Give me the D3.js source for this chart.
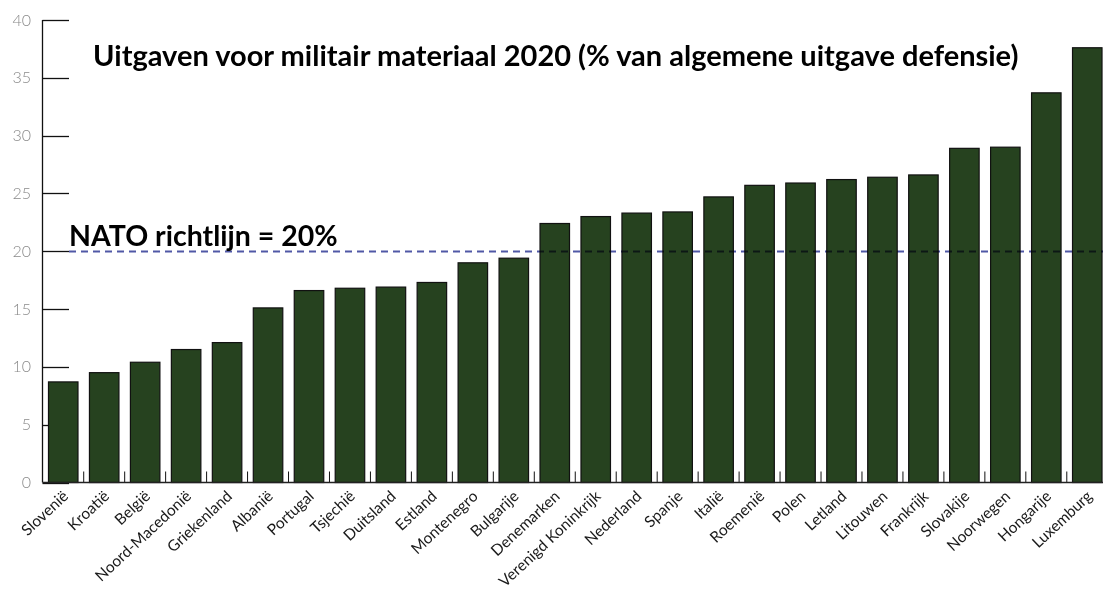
<!DOCTYPE html>
<meta charset="utf-8">
<style>
  body { margin: 0; background: #fff; }
  svg text { font-family: Futura, "Century Gothic", Lato, sans-serif; }
</style>
<svg width="1103" height="592"></svg>
<script src="https://d3js.org/d3.v7.min.js"></script>
<script>

var landen = ["Slovenië", "Kroatië", "België", "Noord-Macedonië", "Griekenland", "Albanië",
  "Portugal", "Tsjechië", "Duitsland", "Estland", "Montenegro", "Bulgarije", "Denemarken",
  "Verenigd Koninkrijk", "Nederland", "Spanje", "Italië", "Roemenië", "Polen", "Letland",
  "Litouwen", "Frankrijk", "Slovakije", "Noorwegen", "Hongarije", "Luxemburg"]
var uitgaven = [8.7, 9.5, 10.4, 11.5, 12.1, 15.1, 16.6, 16.8, 16.9, 17.3, 19.0, 19.4, 22.4,
  23.0, 23.3, 23.4, 24.7, 25.7, 25.9, 26.2, 26.4, 26.6, 28.9, 29.0, 33.7, 37.6]
var yTicks = [0, 5, 10, 15, 20, 25, 30, 35, 40]
var richtlijn = 20
var titel = "Uitgaven voor militair materiaal 2020 (% van algemene uitgave defensie)"
var richtlijnLabel = "NATO richtlijn = 20%"

var data = landen.map(function (l, i) { return { land: l, waarde: uitgaven[i] } })

var svg = d3.select('svg')
var plotLeft = 42.5, plotTop = 20, plotBottom = 482.5, plotRight = 1103

var x = d3.scaleBand()
  .domain(landen)
  .range([plotLeft + 0.5, 1107.5])
  .paddingInner(0.28)
  .paddingOuter(0.134)

var y = d3.scaleLinear().domain([0, 40]).range([plotBottom, plotTop])

// y axis with long ticks (drawn behind the bars)
var yAxis = svg.append('g')
yAxis.append('line')
  .attr('x1', plotLeft).attr('x2', plotLeft)
  .attr('y1', y(40)).attr('y2', plotBottom)
  .attr('stroke', '#111').attr('stroke-width', 1.3)
yAxis.selectAll('line.tick')
  .data(yTicks)
  .enter().append('line')
    .attr('class', 'tick')
    .attr('x1', plotLeft).attr('x2', 69)
    .attr('y1', function (d) { return Math.round(y(d)) + 0.5 })
    .attr('y2', function (d) { return Math.round(y(d)) + 0.5 })
    .attr('stroke', '#111').attr('stroke-width', 1.3)
yAxis.selectAll('text')
  .data(yTicks)
  .enter().append('text')
    .attr('x', 31)
    .attr('y', function (d) { return y(d) })
    .attr('dy', '0.35em')
    .attr('text-anchor', 'end')
    .attr('font-size', 16)
    .attr('font-weight', 300)
    .attr('fill', '#8a8a8a')
    .text(function (d) { return d })

// small ticks between the bars
svg.append('g').selectAll('line')
  .data(landen.slice(0, -1))
  .enter().append('line')
    .attr('x1', function (d) { return x(d) + x.bandwidth() + x.step() * 0.14 })
    .attr('x2', function (d) { return x(d) + x.bandwidth() + x.step() * 0.14 })
    .attr('y1', plotBottom - 11).attr('y2', plotBottom)
    .attr('stroke', '#111').attr('stroke-width', 1)

// bars
svg.append('g').selectAll('rect')
  .data(data)
  .enter().append('rect')
    .attr('x', function (d) { return x(d.land) })
    .attr('y', function (d) { return y(d.waarde) })
    .attr('width', x.bandwidth())
    .attr('height', function (d) { return plotBottom - y(d.waarde) })
    .attr('fill', '#26421f')
    .attr('stroke', '#111')
    .attr('stroke-width', 1.2)

// baseline
svg.append('line')
  .attr('x1', plotLeft).attr('x2', plotRight)
  .attr('y1', plotBottom).attr('y2', plotBottom)
  .attr('stroke', '#222').attr('stroke-width', 1.6)

// NATO guideline, multiply so it goes dark over the bars
svg.append('line')
  .attr('x1', 69).attr('x2', plotRight)
  .attr('y1', 251.5).attr('y2', 251.5)
  .attr('stroke', '#5058a6')
  .attr('stroke-width', 2.2)
  .attr('stroke-dasharray', '7,5')
  .style('mix-blend-mode', 'multiply')

svg.append('text')
  .attr('x', 69).attr('y', 246)
  .attr('font-size', 28.5)
  .attr('font-weight', 'bold')
  .attr('fill', '#000')
  .text(richtlijnLabel)

svg.append('text')
  .attr('x', 93).attr('y', 66)
  .attr('font-size', 29)
  .attr('font-weight', 'bold')
  .attr('fill', '#000')
  .text(titel)

// rotated country labels
svg.append('g').selectAll('text')
  .data(landen)
  .enter().append('text')
    .attr('transform', function (d) {
      return 'translate(' + (x(d) + x.bandwidth() / 2 + 6) + ',' + (plotBottom + 15) + ') rotate(-43)'
    })
    .attr('text-anchor', 'end')
    .attr('font-size', 15.5)
    .attr('fill', '#1a1a1a')
    .text(function (d) { return d })
</script>
